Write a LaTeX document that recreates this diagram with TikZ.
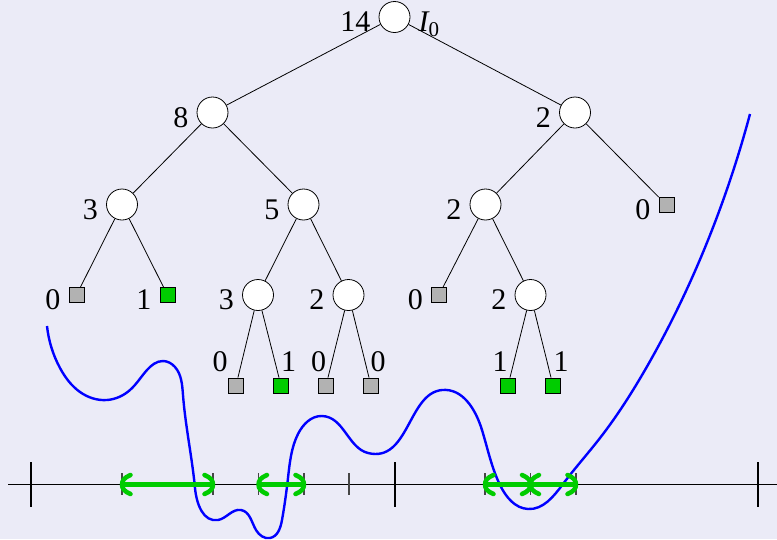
\documentclass[tikz,border=0pt]{standalone}
\usepackage{fontspec}
\setmainfont{Liberation Serif}
\usetikzlibrary{hobby}
\definecolor{bg}{RGB}{235,235,247}
\definecolor{leafgreen}{RGB}{0,204,0}
\definecolor{leafgray}{RGB}{178,178,178}
\definecolor{tickgray}{RGB}{70,70,70}
\definecolor{curveblue}{RGB}{0,0,255}
\begin{document}
\begin{tikzpicture}[x=1pt,y=-1pt,
  inner/.style={circle,draw,fill=white,minimum size=31pt,inner sep=0pt,line width=0.8pt},
  leafg/.style={rectangle,draw,fill=leafgray,minimum size=15pt,inner sep=0pt,line width=0.8pt},
  leafw/.style={leafg,fill=leafgreen},
  lbl/.style={font=\fontsize{30}{34}\selectfont,inner sep=0pt},
  every label/.style={font=\fontsize{30}{34}\selectfont,yshift=-5pt,inner sep=4pt},
  label distance=4pt,
  treeline/.style={line width=0.8pt},
  axisline/.style={line width=1.1pt},
  bigtick/.style={line width=1.3pt},
  smalltick/.style={line width=1.5pt,draw=tickgray},
  gline/.style={draw=leafgreen,line width=4.3pt},
  gtipstroke/.style={draw=leafgreen,line width=4.5pt,line cap=round,line join=round},
  gtipL/.pic={\draw[gtipstroke] (8.5,-9.5) .. controls (2,-7) and (0,-3.5) .. (0,0) .. controls (0,3.5) and (2,7) .. (8.5,9.5);},
  gtipR/.pic={\draw[gtipstroke] (-8.5,-9.5) .. controls (-2,-7) and (0,-3.5) .. (0,0) .. controls (0,3.5) and (-2,7) .. (-8.5,9.5);},
  curve/.style={draw=curveblue,line width=2.4pt}]
\fill[bg] (0,0) rectangle (777,539);
\useasboundingbox (0,0) rectangle (777,539);

% axis
\coordinate (axL) at (8,484.5);
\coordinate (axR) at (777,484.5);
\draw[axisline] (axL) -- (axR);
\foreach \x in {31,395,758} \draw[bigtick] (\x,462) -- (\x,507);
\foreach \x in {122,213,258.5,304,349,485,530.5,576} \draw[smalltick] (\x,473) -- (\x,495);

% blue curve
\draw[curve,use Hobby shortcut] (47,326) .. (60,368) .. (80,392) .. (107,400) .. (130,390)
 .. (147,370) .. (163,361) .. (175,367) .. (183,395) .. (189,443) .. (195,488) .. (218,520)
 .. (241,510) .. (256,530) .. (270,538) .. (282,520) .. (288,478) .. (298,434) .. (322,416)
 .. (368,453) .. (442,390) .. (482,430) .. (500,485) .. (528,509) .. (563,484) .. (600,438)
 .. (645,370) .. (712,230) .. (750,114);

% green arrows
\coordinate (g1) at (122,484.5);
\coordinate (g2) at (213,484.5);
\coordinate (g3) at (258.5,484.5);
\coordinate (g4) at (304,484.5);
\coordinate (g5) at (485,484.5);
\coordinate (g6) at (530.5,484.5);
\coordinate (g7) at (576,484.5);
\draw[gline] (g1) -- (g2);
\draw[gline] (g3) -- (g4);
\draw[gline] (g5) -- (g7);
\pic at (g1) {gtipL};
\pic at (g2) {gtipR};
\pic at (g3) {gtipL};
\pic at (g4) {gtipR};
\pic at (g5) {gtipL};
\pic at (g6) {gtipR};
\pic at (g6) {gtipL};
\pic at (g7) {gtipR};

% tree nodes
\node[inner,label=left:14,label={[yshift=-2pt]right:{\itshape I}\textsubscript{0}}] (r) at (394.5,17) {};
\node[inner,label=left:8] (a) at (212.5,112.5) {};
\node[inner,label=left:2] (b) at (575,112.5) {};
\node[inner,label=left:3] (aa) at (122,204.5) {};
\node[inner,label=left:5] (ab) at (303.5,204.5) {};
\node[inner,label=left:2] (ba) at (485.5,204.5) {};
\node[leafg,label=left:0] (bb) at (666.5,205) {};
\node[leafg,label=left:0] (aaa) at (76.5,295) {};
\node[leafw,label=left:1] (aab) at (167.5,295) {};
\node[inner,label=left:3] (aba) at (258,295) {};
\node[inner,label=left:2] (abb) at (348.5,295) {};
\node[leafg,label=left:0] (baa) at (439,295) {};
\node[inner,label=left:2] (bab) at (530.5,295) {};
\node[leafg] (abaa) at (236,385.5) {};
\node[leafw] (abab) at (281,385.5) {};
\node[leafg] (abba) at (326,385.5) {};
\node[leafg] (abbb) at (371,385.5) {};
\node[leafw] (baba) at (508,385.5) {};
\node[leafw] (babb) at (553,385.5) {};
\node[lbl] (l1) at (220,362) {0};
\node[lbl] (l2) at (288.5,362) {1};
\node[lbl] (l3) at (318.5,362) {0};
\node[lbl] (l4) at (378,362) {0};
\node[lbl] (l5) at (500,362) {1};
\node[lbl] (l6) at (561,362) {1};

% tree edges
\draw[treeline] (r) -- (a);
\draw[treeline] (r) -- (b);
\draw[treeline] (a) -- (aa);
\draw[treeline] (a) -- (ab);
\draw[treeline] (b) -- (ba);
\draw[treeline] (b) -- (bb);
\draw[treeline] (aa) -- (aaa);
\draw[treeline] (aa) -- (aab);
\draw[treeline] (ab) -- (aba);
\draw[treeline] (ab) -- (abb);
\draw[treeline] (ba) -- (baa);
\draw[treeline] (ba) -- (bab);
\draw[treeline] (aba) -- (abaa);
\draw[treeline] (aba) -- (abab);
\draw[treeline] (abb) -- (abba);
\draw[treeline] (abb) -- (abbb);
\draw[treeline] (bab) -- (baba);
\draw[treeline] (bab) -- (babb);
\end{tikzpicture}
\end{document}
